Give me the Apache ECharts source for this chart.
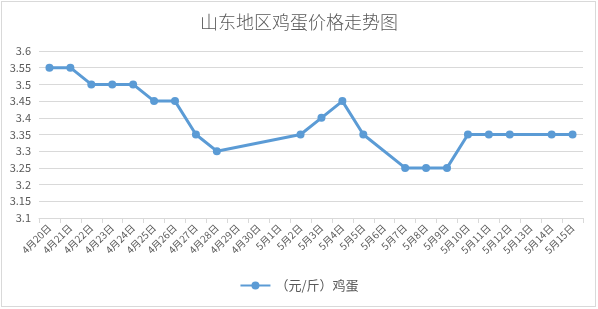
<!DOCTYPE html>
<html><head><meta charset="utf-8">
<script src="https://cdn.jsdelivr.net/npm/echarts@6/dist/echarts.min.js"></script>
<style>html,body{margin:0;padding:0;background:#fff;}#c{width:598px;height:309px;}
#b{position:absolute;left:1px;top:1px;width:593px;height:304px;border:1px solid #d9d9d9;pointer-events:none;}</style>
</head><body><div id="c"></div><div id="b"></div>
<script>
var categories = ['4月20日','4月21日','4月22日','4月23日','4月24日','4月25日','4月26日','4月27日','4月28日','4月29日','4月30日','5月1日','5月2日','5月3日','5月4日','5月5日','5月6日','5月7日','5月8日','5月9日','5月10日','5月11日','5月12日','5月13日','5月14日','5月15日'];
var eggPrices = [3.55,3.55,3.5,3.5,3.5,3.45,3.45,3.35,3.3,null,null,null,3.35,3.4,3.45,3.35,null,3.25,3.25,3.25,3.35,3.35,3.35,null,3.35,3.35];
var seriesName = '（元/斤）鸡蛋';
var titleText = '山东地区鸡蛋价格走势图';
var chart = echarts.init(document.getElementById('c'));
var font = '"Noto Sans CJK SC", "Noto Sans", sans-serif';
chart.setOption({
  animation:false,
  title:{text:titleText,left:'center',top:8,textStyle:{fontFamily:font,fontSize:18,fontWeight:300,color:'#595959'}},
  grid:{left:39,right:15,top:51,bottom:91,containLabel:false},
  legend:{bottom:12,left:'center',itemWidth:30,itemHeight:10,itemGap:5,textStyle:{fontFamily:font,fontSize:13,color:'#595959'},data:[seriesName]},
  xAxis:{type:'category',data:categories,boundaryGap:true,
    axisLine:{lineStyle:{color:'#d9d9d9'}},
    axisTick:{show:true,alignWithLabel:false,lineStyle:{color:'#d9d9d9'},length:5},
    axisLabel:{rotate:45,interval:0,fontFamily:font,fontSize:10,color:'#595959',margin:8}},
  yAxis:{type:'value',min:3.1,max:3.6,interval:0.05,
    axisLine:{show:false},axisTick:{show:false},
    splitLine:{lineStyle:{color:'#d9d9d9'}},
    axisLabel:{fontFamily:font,fontSize:11,color:'#595959',margin:8,formatter:function(v){return String(parseFloat(v.toFixed(2)));}}},
  series:[{name:seriesName,type:'line',data:eggPrices,connectNulls:true,
    symbol:'circle',symbolSize:8,
    lineStyle:{color:'#5b9bd5',width:3},
    itemStyle:{color:'#5b9bd5'}}]
});
</script></body></html>
